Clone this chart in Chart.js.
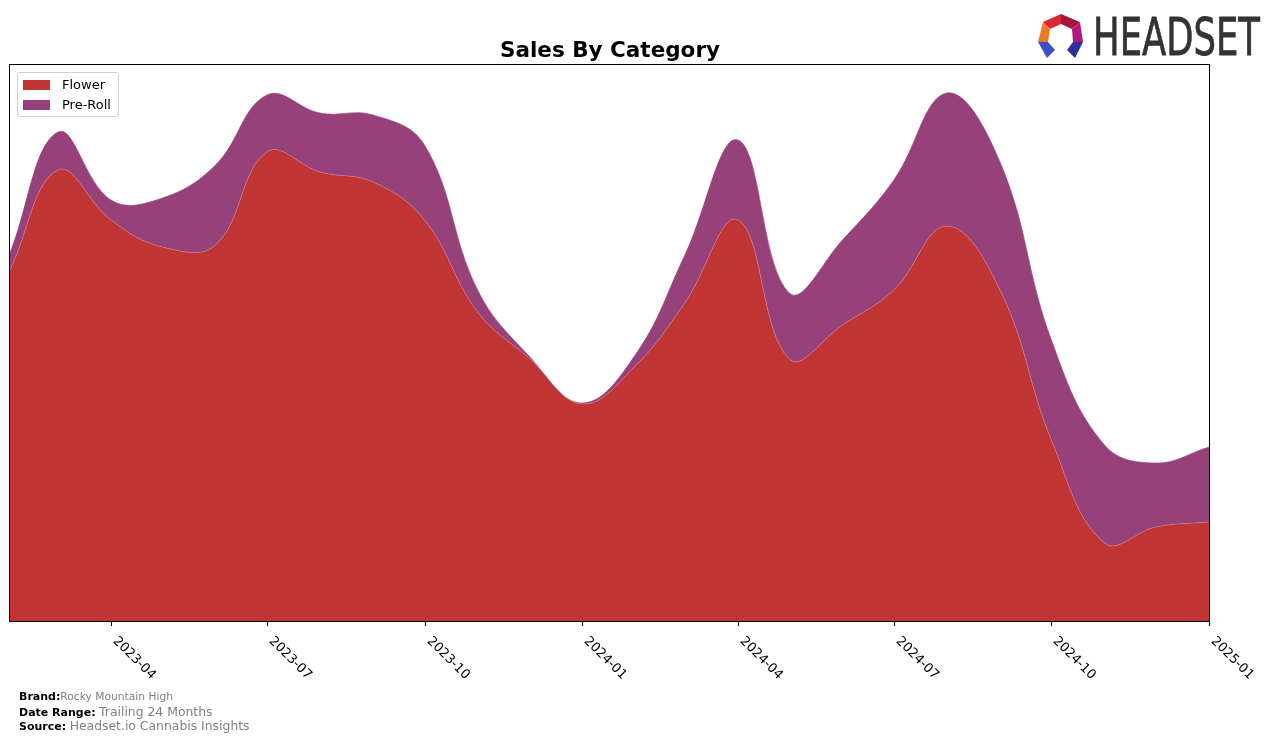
<!DOCTYPE html>
<html>
<head>
<meta charset="utf-8">
<script src="https://cdn.jsdelivr.net/npm/chart.js@4"></script>
<style>
  html, body { margin: 0; padding: 0; background: #fff; }
  #wrap { position: relative; width: 1276px; height: 741px; overflow: hidden; font-family: "DejaVu Sans", sans-serif; }
  #c { position: absolute; left: 0; top: 0; }
  #title { position: absolute; left: 360px; width: 500px; top: 36px; text-align: center; font-weight: bold; font-size: 21.5px; color: #000; line-height: 28px; }
  #legend { position: absolute; left: 17px; top: 72px; width: 102px; height: 45px; border: 1px solid #d0d0d0; border-radius: 3px; background: rgba(255,255,255,0.8); box-sizing: border-box; }
  .li { position: absolute; left: 5px; font-size: 13px; color: #000; height: 16px; line-height: 16px; }
  .sw { position: absolute; left: 0; top: 3px; width: 27px; height: 10px; }
  .lt { position: absolute; left: 39px; top: 0; white-space: nowrap; }
  #footer { position: absolute; left: 19px; top: 690px; font-size: 11px; color: #000; }
  .fl { position: absolute; left: 0; white-space: nowrap; }
  .fl b { font-weight: bold; }
  .fv { color: #808080; }
  #logo { position: absolute; left: 1030px; top: 8px; }
</style>
</head>
<body>
<div id="wrap">
  <canvas id="c" width="1276" height="741"></canvas>
  <div id="title">Sales By Category</div>
  <div id="legend">
    <div class="li" style="top:4px"><div class="sw" style="background:#C13434"></div><div class="lt">Flower</div></div>
    <div class="li" style="top:24px"><div class="sw" style="background:#96417A"></div><div class="lt">Pre-Roll</div></div>
  </div>
  <div id="footer">
    <div class="fl" style="top:0px"><b>Brand:</b><span class="fv" style="font-size:10.7px">Rocky Mountain High</span></div>
    <div class="fl" style="top:14px"><b>Date Range:</b> <span class="fv" style="font-size:12.4px">Trailing 24 Months</span></div>
    <div class="fl" style="top:28px"><b>Source:</b> <span class="fv" style="font-size:12.4px">Headset.io Cannabis Insights</span></div>
  </div>
  <svg id="logo" width="240" height="56" viewBox="1030 8 240 56">
    <polygon points="1043,22 1061,14 1061,24 1050,29" fill="#D8262E"/>
    <polygon points="1061,14 1080,22 1072,29 1061,24" fill="#A3163E"/>
    <polygon points="1043,22 1050,29 1048,42 1038,42" fill="#F07A22"/>
    <polygon points="1080,22 1083,42 1073,42 1072,29" fill="#B4177E"/>
    <polygon points="1038,42 1048,42 1055,50 1047,58" fill="#3E4FC4"/>
    <polygon points="1083,42 1073,42 1067,50 1075,58" fill="#2F2F95"/>
    <text x="1093" y="55" font-family="DejaVu Sans, sans-serif" font-size="51" fill="#333" stroke="#333" stroke-width="0.8" textLength="167" lengthAdjust="spacingAndGlyphs">HEADSET</text>
  </svg>
</div>
<script>
const months = ["2023-02","2023-03","2023-04","2023-05","2023-06","2023-07","2023-08","2023-09","2023-10","2023-11","2023-12",
  "2024-01","2024-02","2024-03","2024-04","2024-05","2024-06","2024-07","2024-08","2024-09","2024-10","2024-11","2024-12","2025-01"];
const flowerSales = [351,451,401,374,376,469,449,439,401,309,263,217,255,318,401,262,296,331,395,331,181,78,94,99];
const preRollSales = [17,38,20,49,80,57,59,67,75,22,2,1,11,48,80,66,85,110,133,128,100,98,64,75];
const tickLabels = ["2023-04","2023-07","2023-10","2024-01","2024-04","2024-07","2024-10","2025-01"];

// day offset of each month from the first month (time-proportional x positions)
const DAY = 86400000;
const t0 = Date.UTC(2023, 1, 1);
function dayOf(m) { const [y, mo] = m.split('-').map(Number); return (Date.UTC(y, mo - 1, 1) - t0) / DAY; }
const xDays = months.map(dayOf);

const framePlugin = {
  id: 'frameTicks',
  afterDatasetsDraw(chart) {
    const ctx = chart.ctx;
    const a = chart.chartArea;
    const xs = chart.scales.x;
    ctx.save();
    ctx.strokeStyle = '#000';
    ctx.lineWidth = 1;
    ctx.strokeRect(Math.round(a.left) - 0.5, Math.round(a.top) - 0.5, Math.round(a.right - a.left) + 1, Math.round(a.bottom - a.top) + 1);
    ctx.fillStyle = '#000';
    ctx.font = '13px "DejaVu Sans", sans-serif';
    ctx.textAlign = 'left';
    ctx.textBaseline = 'middle';
    tickLabels.forEach(lbl => {
      const x = Math.round(xs.getPixelForValue(dayOf(lbl)));
      ctx.beginPath();
      ctx.moveTo(x + 0.5, a.bottom);
      ctx.lineTo(x + 0.5, a.bottom + 5);
      ctx.stroke();
      ctx.save();
      ctx.translate(x + 4, a.bottom + 18);
      ctx.rotate(Math.PI / 4);
      ctx.fillText(lbl, 0, 0);
      ctx.restore();
    });
    ctx.restore();
  }
};

new Chart(document.getElementById('c'), {
  type: 'line',
  data: {
    datasets: [
      { label: 'Flower', data: flowerSales.map((v, i) => ({ x: xDays[i], y: v })), backgroundColor: '#C13434', borderColor: 'rgba(200,130,150,0.9)', borderWidth: 0.6, fill: 'origin', tension: 0.4, pointRadius: 0 },
      { label: 'Pre-Roll', data: preRollSales.map((v, i) => ({ x: xDays[i], y: v })), backgroundColor: '#96417A', borderColor: 'rgba(150,65,122,1)', borderWidth: 0.6, fill: '-1', tension: 0.4, pointRadius: 0 }
    ]
  },
  options: {
    responsive: false,
    devicePixelRatio: 1,
    animation: false,
    layout: { padding: { left: 10, right: 67, top: 65, bottom: 120 } },
    scales: {
      x: { type: 'linear', display: false, min: 0, max: xDays[xDays.length - 1] },
      y: { display: false, stacked: true, min: 0, max: 556 }
    },
    plugins: { legend: { display: false }, title: { display: false }, tooltip: { enabled: false } }
  },
  plugins: [framePlugin]
});
</script>
</body>
</html>
